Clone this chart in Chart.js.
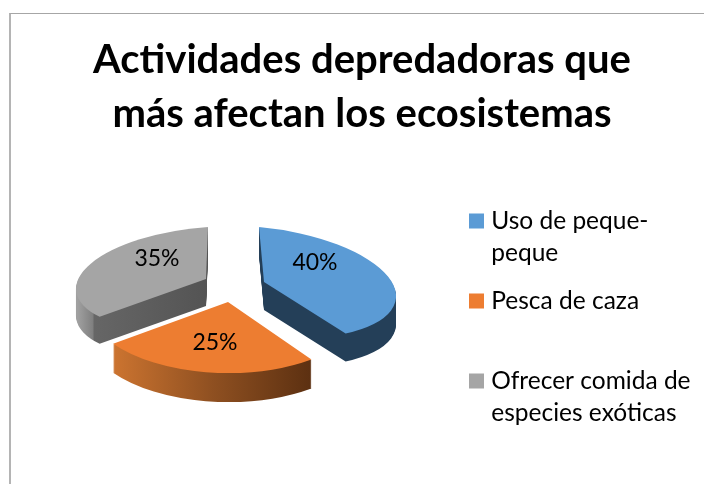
<!DOCTYPE html>
<html><head><meta charset="utf-8">
<style>
html,body{margin:0;padding:0;background:#fff;width:704px;height:484px;overflow:hidden}
#frame{position:absolute;left:9px;top:13px;width:695px;height:471px;box-sizing:border-box;border-left:2px solid #b4b4b4;border-top:1px solid #a6a6a6}
canvas{position:absolute;left:0;top:0;display:block}
</style>
<script src="https://cdn.jsdelivr.net/npm/chart.js@4/dist/chart.umd.min.js"></script>
</head><body>
<div id="frame"></div>
<canvas id="c" width="704" height="484"></canvas>
<script>
const titleLines = ["Actividades depredadoras que", "más afectan los ecosistemas"];
const categories = [["Uso de peque-", "peque"], ["Pesca de caza", ""], ["Ofrecer comida de", "especies exóticas"]];
const values = [40, 25, 35];
const colors = ["#5b9bd5", "#ed7d31", "#a5a5a5"];

// Hand-fitted projection of each exploded slice (the source is a tilted 3D pie)
const views = [
  {ax:264, ay:282, a:132, b:12, c:5, d:55, depth:28, lx:315, ly:263,
   side:[[113,"#243f58"],[392,"#243f58"]]},
  {ax:228, ay:302, a:142, b:0, c:0, d:71, depth:29, lx:215, ly:343,
   side:[[113,"#cc7430"],[212,"#8f5021"],[312,"#5c3011"]]},
  {ax:206, ay:279, a:130, b:-9, c:-2, d:52, depth:27, lx:157, ly:259,
   side:[[78,"#a0a0a0"],[94,"#7f7f7f"],[95,"#666666"],[206,"#545454"]]}
];

const tiltedPie = {
  id: 'tiltedPie',
  afterLayout(chart) {
    const lg = chart.legend;
    const p = lg.options.labels.padding;
    lg.left = 474 - p;
    lg.top = 208.75 - p;
  },
  beforeDatasetDraw(chart, args) {
    const ctx = chart.ctx;
    const els = args.meta.data;
    [2, 0, 1].forEach(i => {
      const el = els[i], v = views[i], r = el.outerRadius;
      const base = el.options;
      const place = dy => {
        ctx.setTransform(v.a / r, v.b / r, v.c / r, v.d / r, v.ax, v.ay + dy);
        ctx.translate(-el.x, -el.y);
      };
      ctx.save();
      place(0);
      const toLocal = x => el.x + (x - v.ax) * r / v.a;
      const g = ctx.createLinearGradient(toLocal(v.side[0][0]), 0, toLocal(v.side[v.side.length - 1][0]), 0);
      const x0 = v.side[0][0], x1 = v.side[v.side.length - 1][0];
      v.side.forEach(s => g.addColorStop((s[0] - x0) / (x1 - x0), s[1]));
      el.options = Object.assign({}, base, {backgroundColor: g, borderWidth: 0});
      for (let d = v.depth; d >= 1; d--) { place(d); el.draw(ctx); }
      el.options = Object.assign({}, base, {backgroundColor: colors[i], borderWidth: 0});
      place(0);
      el.draw(ctx);
      el.options = base;
      ctx.restore();
    });
    return false;
  },
  afterDatasetsDraw(chart) {
    const ctx = chart.ctx;
    ctx.save();
    ctx.fillStyle = '#000';
    ctx.font = '23px Lato';
    ctx.textAlign = 'center';
    ctx.textBaseline = 'middle';
    values.forEach((val, i) => ctx.fillText(val + '%', views[i].lx, views[i].ly));
    ctx.restore();
  }
};

new Chart(document.getElementById('c'), {
  type: 'pie',
  data: {
    labels: categories,
    datasets: [{data: values, backgroundColor: colors, borderWidth: 0}]
  },
  plugins: [tiltedPie],
  options: {
    responsive: false,
    animation: false,
    layout: {padding: {left: 20, top: 33, right: 0, bottom: 0}},
    plugins: {
      tooltip: {enabled: false},
      title: {
        display: true,
        text: titleLines,
        color: '#000',
        font: {family: 'Lato', size: 40, weight: 'bold', lineHeight: 1.35},
        padding: {top: 0, bottom: 10}
      },
      legend: {
        display: true,
        position: 'right',
        align: 'start',
        labels: {
          boxWidth: 5, boxHeight: 5, padding: 16, color: '#000',
          font: {family: 'Lato', size: 24.5, lineHeight: 32 / 24.5},
          generateLabels(chart) {
            const items = Chart.overrides.pie.plugins.legend.labels.generateLabels(chart);
            items.forEach(it => { it.strokeStyle = it.fillStyle; it.lineWidth = 10; });
            return items;
          }
        }
      }
    }
  }
});
</script>
</body></html>
